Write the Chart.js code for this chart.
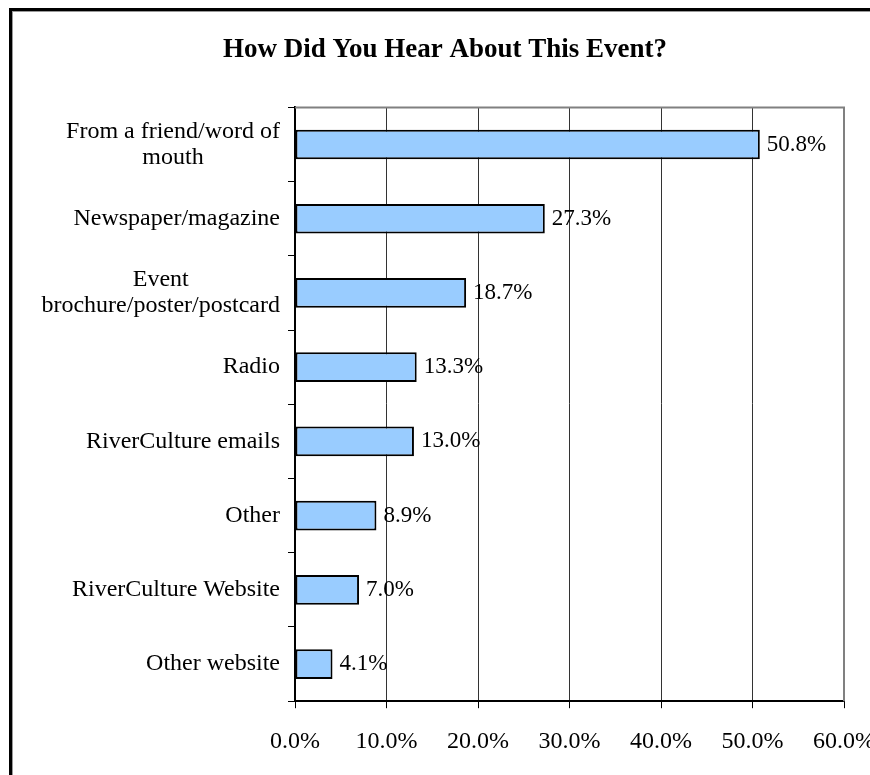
<!DOCTYPE html>
<html>
<head>
<meta charset="utf-8">
<script src="https://cdn.jsdelivr.net/npm/chart.js@4/dist/chart.umd.min.js"></script>
<style>
  html, body { margin: 0; padding: 0; background: #fff; overflow: hidden; }
  #frame { position: absolute; left: 9px; top: 8px; width: 900px; height: 800px;
           border: 3px solid #000; box-shadow: inset 1px 1px 0 #999; }
  #wrap { position: absolute; left: 0; top: 0; width: 870px; height: 775px; }
</style>
</head>
<body>
<div id="frame"></div>
<div id="wrap"><canvas id="chart"></canvas></div>
<script>
const categories = [
    ["From a friend/word of", "mouth"],
    ["Newspaper/magazine"],
    ["Event", "brochure/poster/postcard"],
    ["Radio"],
    ["RiverCulture emails"],
    ["Other"],
    ["RiverCulture Website"],
    ["Other website"]
];
const values = [50.8, 27.3, 18.7, 13.3, 13.0, 8.9, 7.0, 4.1];
const xTicks = [0, 10, 20, 30, 40, 50, 60];
const chartTitle = "How Did You Hear About This Event?";

const SERIF = "'Liberation Serif', 'Times New Roman', serif";

// etiquetas de categoría (centradas en bloque, alineadas a la derecha)
const catLabels = {
    id: 'catLabels',
    afterDraw(chart) {
        const ctx = chart.ctx;
        const yScale = chart.scales.y;
        const right = chart.chartArea.left - 15;
        ctx.save();
        ctx.font = "24px " + SERIF;
        ctx.fillStyle = "#000";
        ctx.textAlign = "center";
        ctx.textBaseline = "middle";
        categories.forEach((lines, i) => {
            const cy = yScale.getPixelForValue(i);
            const w = Math.max(...lines.map(l => ctx.measureText(l).width));
            const cx = right - w / 2;
            const lh = 26;
            const y0 = cy - (lines.length - 1) * lh / 2;
            lines.forEach((l, j) => ctx.fillText(l, cx, y0 + j * lh));
        });
        ctx.restore();
    }
};

// valores al final de cada barra
const valueLabels = {
    id: 'valueLabels',
    afterDatasetsDraw(chart) {
        const ctx = chart.ctx;
        const meta = chart.getDatasetMeta(0);
        ctx.save();
        ctx.font = "23px " + SERIF;
        ctx.fillStyle = "#000";
        ctx.textAlign = "left";
        ctx.textBaseline = "middle";
        meta.data.forEach((bar, i) => {
            ctx.fillText(values[i].toFixed(1) + "%", bar.x + 7, bar.y);
        });
        ctx.restore();
    }
};

// borde gris del área de trazado
const plotBorder = {
    id: 'plotBorder',
    beforeDatasetsDraw(chart) {
        const { ctx, chartArea: a } = chart;
        ctx.save();
        ctx.strokeStyle = "#808080";
        ctx.lineWidth = 2;
        ctx.beginPath();
        ctx.moveTo(a.left, a.top);
        ctx.lineTo(a.right, a.top);
        ctx.lineTo(a.right, a.bottom);
        ctx.stroke();
        ctx.restore();
    }
};

new Chart(document.getElementById('chart'), {
    type: 'bar',
    data: {
        labels: categories.map(c => c.join(" ")),
        datasets: [{
            data: values,
            backgroundColor: '#99CCFF',
            borderColor: '#000',
            borderWidth: 2,
            borderSkipped: false,
            barPercentage: 0.4,
            categoryPercentage: 1
        }]
    },
    options: {
        indexAxis: 'y',
        responsive: true,
        maintainAspectRatio: false,
        animation: false,
        layout: { padding: { left: 46, right: 26, top: 0, bottom: 0 } },
        plugins: {
            legend: { display: false },
            tooltip: { enabled: false },
            title: {
                display: true,
                text: chartTitle,
                color: '#000',
                font: { family: SERIF, size: 27, weight: 'bold' },
                padding: { top: 34, bottom: 41 }
            }
        },
        scales: {
            x: {
                min: 0,
                max: 60,
                afterBuildTicks: s => { s.ticks = xTicks.map(v => ({ value: v })); },
                afterFit: s => { s.paddingRight = 0; s.paddingLeft = 0; },
                ticks: {
                    color: '#000',
                    padding: 19,
                    maxRotation: 0,
                    font: { family: SERIF, size: 24 },
                    callback: v => Number(v).toFixed(1) + "%"
                },
                grid: {
                    color: c => (c.index === xTicks.length - 1 ? '#808080' : '#333'),
                    lineWidth: 1,
                    tickLength: 7,
                    tickColor: '#000'
                },
                border: { color: '#000', width: 2 }
            },
            y: {
                offset: true,
                afterFit: s => { s.width = 249; },
                ticks: { display: false },
                grid: {
                    offset: true,
                    drawOnChartArea: false,
                    color: '#000',
                    tickLength: 7
                },
                border: { color: '#000', width: 2 }
            }
        }
    },
    plugins: [plotBorder, valueLabels, catLabels]
});
</script>
</body>
</html>
